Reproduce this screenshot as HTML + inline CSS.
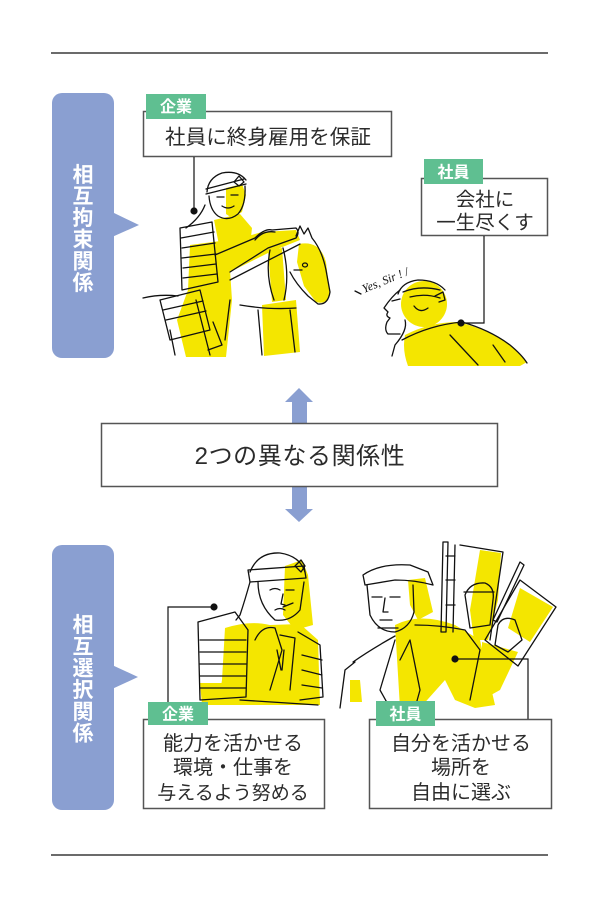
<!DOCTYPE html>
<html>
<head>
<meta charset="utf-8">
<style>
html,body{margin:0;padding:0;background:#fff;}
svg{display:block;}
text{font-family:"Liberation Sans","Noto Sans CJK JP",sans-serif;}
.t{fill:#2b2b2b;font-size:20px;}
.tag{fill:#fff;font-size:16px;font-weight:bold;}
.v{fill:#fff;font-size:21px;font-weight:bold;}
.ln{fill:none;stroke:#111;stroke-width:1.3;stroke-linecap:round;stroke-linejoin:round;}
.y{fill:#f4e600;}
</style>
</head>
<body>
<svg width="600" height="908" viewBox="0 0 600 908" xmlns="http://www.w3.org/2000/svg">
<!-- rules -->
<rect x="51" y="52" width="497" height="2" fill="#6b6b6b"/>
<rect x="51" y="854" width="497" height="2" fill="#6b6b6b"/>

<!-- blue pills -->
<rect x="52" y="93" width="62" height="265" rx="10" fill="#8a9fd1"/>
<polygon points="112,212 139,225 112,237" fill="#8a9fd1"/>
<rect x="52" y="545" width="62" height="265" rx="10" fill="#8a9fd1"/>
<polygon points="112,665 138,677 112,689" fill="#8a9fd1"/>
<g text-anchor="middle">
<text class="v" x="83" y="182">相</text>
<text class="v" x="83" y="203.5">互</text>
<text class="v" x="83" y="225">拘</text>
<text class="v" x="83" y="246.7">束</text>
<text class="v" x="83" y="268.4">関</text>
<text class="v" x="83" y="290">係</text>
<text class="v" x="83" y="632">相</text>
<text class="v" x="83" y="654">互</text>
<text class="v" x="83" y="675.5">選</text>
<text class="v" x="83" y="697">択</text>
<text class="v" x="83" y="719">関</text>
<text class="v" x="83" y="740.5">係</text>
</g>

<!-- ============ Illustration 1: samurai on horse ============ -->
<g>
<path class="y" d="M226,188 L242,184 L246,195 L242,212 L232,218 L226,214 Z"/>
<path class="y" d="M214,220 L240,214 L252,228 L250,246 L220,250 Z"/>
<path class="y" d="M190,245 L228,240 L232,300 L226,357 L186,357 L177,320 L188,290 Z"/>
<path class="y" d="M220,244 L262,232 L296,230 L300,240 L270,252 L230,272 Z"/>
<path class="y" d="M299,244 Q320,240 326,262 L330,295 Q326,305 316,302 L304,286 L297,262 Z"/>
<path class="y" d="M268,250 L282,248 L286,300 L272,302 Z"/>
<path class="y" d="M262,305 L296,300 L300,352 L264,356 Z"/>
<path class="ln" d="M207,192 Q208,178 222,173 Q238,170 246,180"/>
<path class="ln" d="M206,194 L246,184 M206,189 L244,179"/>
<path class="ln" d="M234,182 l5,-6 l5,6 l-5,4 Z"/>
<path class="ln" d="M209,196 Q210,210 218,216 Q228,222 238,214 Q246,205 245,186"/>
<path class="ln" d="M217,197 l7,0 M231,195 l7,0 M222,206 q6,4 12,0"/>
<path class="ln" d="M205,205 Q200,218 186,228"/>
<path class="ln" d="M180,228 L212,222 L218,282 L182,290 Z"/>
<path class="ln" d="M181,238 L214,232 M182,248 L215,243 M182,258 L216,254 M183,268 L216,264 M183,278 L217,274"/>
<path class="ln" d="M160,300 L200,290 L210,330 L170,340 Z M163,310 L203,301 M166,320 L206,311"/>
<path class="ln" d="M215,255 L255,238 Q265,228 272,230 L296,228 Q300,232 296,238 L268,248 L230,272"/>
<path class="ln" d="M255,240 q8,-10 20,-8 M230,280 L300,244"/>
<path class="ln" d="M296,236 L300,226 L304,234 L308,228 L312,238 Q322,250 326,270 L330,292 Q328,305 318,304 L308,296 Q296,284 290,272"/>
<ellipse cx="305" cy="265" rx="2.5" ry="2" class="ln"/>
<path class="ln" d="M294,270 l8,0 M270,250 Q265,275 274,300 M283,248 Q290,275 284,300"/>
<path class="ln" d="M143,298 Q160,294 178,296 M240,305 Q270,310 296,308"/>
<path class="ln" d="M196,300 L210,355 M230,300 L225,340 M258,310 L262,355 M290,310 L295,352 M170,330 L175,355 M213,322 L222,345 L208,350"/>
</g>

<!-- ============ Illustration 2: Yes sir ============ -->
<g>
<ellipse class="y" cx="424" cy="304" rx="23" ry="23"/>
<path class="y" d="M405,335 Q430,322 458,322 Q490,330 510,345 L527,362 L520,366 L408,366 Q402,350 405,335 Z"/>
<path class="ln" d="M398,294 Q402,282 418,280 Q436,280 445,290"/>
<path class="ln" d="M403,292 Q420,285 440,290 M410,297 Q425,293 440,298"/>
<path class="ln" d="M400,290 Q392,296 384,308 L388,312 Q385,316 390,318 L387,322 Q384,330 388,334 L400,334"/>
<path class="ln" d="M392,301 l8,-2 M435,296 l8,-4 l2,8 l-6,2 M414,306 q6,8 14,2"/>
<path class="ln" d="M405,320 Q408,330 395,345 L392,356"/>
<path class="ln" d="M402,340 Q430,325 462,322 Q490,330 510,345 Q522,355 527,363"/>
<path class="ln" d="M450,335 L478,365 M493,345 L505,362"/>
<path class="ln" d="M355,291 L361,294"/>
<text x="364" y="293" transform="rotate(-22 364 293)" font-size="12" font-style="italic" fill="#111" style="font-family:'Liberation Serif',serif;">Yes, Sir ! /</text>
</g>

<!-- ============ Illustration 3: thinking samurai ============ -->
<g>
<path class="y" d="M285,566 L302,560 L308,575 L313,625 L295,630 L283,615 Z"/>
<path class="y" d="M225,628 Q250,620 270,625 L300,624 L318,640 L320,705 L218,705 L222,680 Z"/>
<path class="y" d="M200,683 L240,683 L240,705 L202,705 Z"/>
<path class="ln" d="M250,572 Q258,552 280,553 Q300,556 305,572"/>
<path class="ln" d="M248,570 L304,566 L306,578 L250,582 Z"/>
<path class="ln" d="M295,566 l6,-6 l4,6 l-4,6 Z"/>
<path class="ln" d="M258,582 Q258,605 275,620 Q290,622 300,610 L304,582"/>
<path class="ln" d="M250,582 Q245,600 240,615 L236,620"/>
<path class="ln" d="M270,590 q5,-3 10,0 M286,590 l8,0 M283,594 l-2,10 l4,1 M275,610 q5,-3 10,0 M283,607 l10,-4"/>
<path class="ln" d="M198,622 L235,612 L248,630 L246,697 L200,700 Z"/>
<path class="ln" d="M200,640 L246,640 M200,652 L246,652 M200,664 L246,664 M200,676 L246,676 M200,688 L246,688"/>
<path class="ln" d="M298,632 L320,645 L323,697 L300,700 M302,655 L322,660 M302,670 L322,675 M302,685 L322,688"/>
<path class="ln" d="M255,640 Q262,625 275,628 L282,650 L270,690 M280,635 L295,638 L290,690 M240,700 L318,705"/>
<path class="ln" d="M277,650 l4,20 M284,650 l-2,20"/>
</g>

<!-- ============ Illustration 4: man with banners ============ -->
<g>
<path class="y" d="M408,580 L425,578 L433,612 L418,620 L410,605 Z"/>
<path class="y" d="M395,625 Q420,612 455,625 L480,640 L495,705 L475,708 L455,700 L445,680 L420,708 L400,708 Z"/>
<path class="y" d="M350,680 L360,680 L362,702 L350,702 Z"/>
<path class="y" d="M480,550 L501,553 L498,600 L488,640 L474,640 L470,610 Z"/>
<path class="y" d="M520,588 L553,607 L530,642 L508,628 Z"/>
<path class="y" d="M482,642 L518,652 L500,690 L482,700 Z"/>
<path class="y" d="M472,598 L490,598 L490,625 L472,627 Z"/>
<path class="ln" d="M363,575 Q380,563 410,565 L428,572 L433,585 Q415,580 395,580 L365,585 Z"/>
<path class="ln" d="M367,585 L370,615 Q378,632 395,632 Q410,628 414,612 L413,585"/>
<path class="ln" d="M372,597 l10,0 M390,597 l10,0 M385,598 l-2,14 l5,0 M380,620 l12,0 M378,628 l20,0"/>
<path class="ln" d="M353,662 Q370,650 395,636 M340,708 L345,670 L355,662"/>
<path class="ln" d="M395,640 L380,690 L390,708 M410,640 L420,690 L415,708 M400,660 L410,640"/>
<path class="ln" d="M415,625 Q440,625 465,630 L480,650 L470,700"/>
<path class="ln" d="M443,542 L448,542 L446,632 L441,632 Z M446,556 l9,0 M446,580 l9,0 M446,605 l9,0 M455,545 L453,632"/>
<path class="ln" d="M460,545 L503,552 L490,640"/>
<path class="ln" d="M465,595 Q470,582 485,583 Q495,587 493,600 L490,625 L470,628 Z M464,592 l30,0"/>
<path class="ln" d="M493,620 L520,562 L524,565 L497,622 Z"/>
<path class="ln" d="M520,580 L556,607 L518,666 L485,640 Z"/>
<path class="ln" d="M498,625 Q503,615 515,620 L522,640 L508,652 L495,645 Z"/>
</g>

<!-- ============ Boxes ============ -->
<!-- top left -->
<rect x="143.5" y="111.5" width="248" height="45" fill="#fff" stroke="#555" stroke-width="1.5"/>
<rect x="146" y="94" width="60" height="25" fill="#5fbf91"/>
<text class="tag" x="176" y="112" text-anchor="middle">企業</text>
<text class="t" x="268" y="144" text-anchor="middle" style="font-size:20.6px">社員に終身雇用を保証</text>
<line x1="194" y1="157" x2="194" y2="211" stroke="#111" stroke-width="1.2"/>
<circle cx="194" cy="211" r="3.6" fill="#111"/>

<!-- top right -->
<rect x="421.5" y="178.5" width="126" height="57" fill="#fff" stroke="#555" stroke-width="1.5"/>
<rect x="424" y="159" width="59" height="25" fill="#5fbf91"/>
<text class="tag" x="453.5" y="177.5" text-anchor="middle">社員</text>
<text class="t" x="485" y="206" text-anchor="middle" style="font-size:19.5px">会社に</text>
<text class="t" x="485" y="229" text-anchor="middle" style="font-size:19.5px">一生尽くす</text>
<polyline points="484,236 484,323 461,323" fill="none" stroke="#111" stroke-width="1.2"/>
<circle cx="461" cy="323" r="3.6" fill="#111"/>

<!-- center -->
<polygon points="299,388 285,402 292,402 292,423 307,423 307,402 313,402" fill="#8a9fd1"/>
<polygon points="292,487 292,509 285,509 299,522 313,509 307,509 307,487" fill="#8a9fd1"/>
<rect x="101.5" y="423.5" width="396" height="63" fill="#fff" stroke="#555" stroke-width="1.5"/>
<text class="t" x="300" y="464" text-anchor="middle" style="font-size:24px" letter-spacing="0.6">2つの異なる関係性</text>

<!-- bottom left -->
<polyline points="168,719 168,607 214,607" fill="none" stroke="#111" stroke-width="1.2"/>
<circle cx="214" cy="607" r="3.6" fill="#111"/>
<rect x="143.5" y="719.5" width="181" height="89" fill="#fff" stroke="#555" stroke-width="1.5"/>
<rect x="148" y="702" width="60" height="23" fill="#5fbf91"/>
<text class="tag" x="178" y="719.5" text-anchor="middle">企業</text>
<text class="t" x="233" y="750" text-anchor="middle">能力を活かせる</text>
<text class="t" x="233" y="774" text-anchor="middle">環境・仕事を</text>
<text class="t" x="233" y="799" text-anchor="middle" style="font-size:19px">与えるよう努める</text>

<!-- bottom right -->
<circle cx="455" cy="659" r="3.6" fill="#111"/>
<polyline points="455,659 528,659 528,719" fill="none" stroke="#111" stroke-width="1.2"/>
<rect x="369.5" y="719.5" width="182" height="89" fill="#fff" stroke="#555" stroke-width="1.5"/>
<rect x="376" y="701" width="59" height="25" fill="#5fbf91"/>
<text class="tag" x="405.5" y="719.5" text-anchor="middle">社員</text>
<text class="t" x="461" y="750" text-anchor="middle">自分を活かせる</text>
<text class="t" x="461" y="774" text-anchor="middle">場所を</text>
<text class="t" x="461" y="799" text-anchor="middle">自由に選ぶ</text>
</svg>
</body>
</html>
